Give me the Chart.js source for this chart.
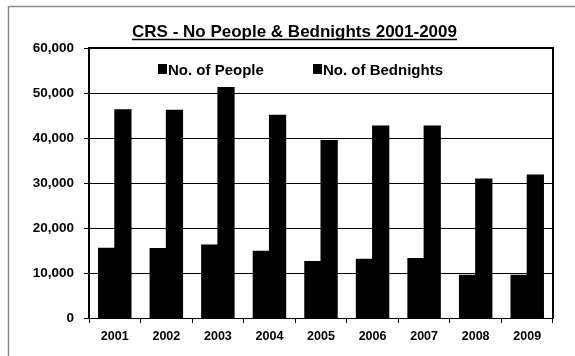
<!DOCTYPE html>
<html>
<head>
<meta charset="utf-8">
<script src="https://cdn.jsdelivr.net/npm/chart.js@4/dist/chart.umd.min.js"></script>
<style>
  html, body { margin: 0; padding: 0; background: #fff; }
  #wrap { width: 575px; height: 356px; }
</style>
</head>
<body>
<div id="wrap"><canvas id="crsChart" width="575" height="356"></canvas></div>
<script>
var years = ['2001', '2002', '2003', '2004', '2005', '2006', '2007', '2008', '2009'];
var people = [15500, 15450, 16250, 14850, 12550, 13050, 13200, 9500, 9500];
var bednights = [46300, 46150, 51200, 45050, 39450, 42650, 42650, 30900, 31800];
var yTicks = [0, 10000, 20000, 30000, 40000, 50000, 60000];
var chartTitle = 'CRS - No People & Bednights 2001-2009';

var FONT = '"Liberation Sans", Arial, sans-serif';

// frame, underlined title, plot border and the legend sitting inside the plot
var decorations = {
  id: 'decorations',
  beforeDraw: function (chart) {
    var c = chart.ctx;
    c.save();
    c.fillStyle = '#fff';
    c.fillRect(0, 0, chart.width, chart.height);
    c.strokeStyle = '#8a8a8a';
    c.lineWidth = 1.5;
    c.beginPath();
    c.moveTo(8.5, chart.height);
    c.lineTo(8.5, 6.5);
    c.lineTo(chart.width, 6.5);
    c.stroke();
    c.restore();
  },
  afterDraw: function (chart) {
    var c = chart.ctx;
    var a = chart.chartArea;
    c.save();
    // plot border (top + right)
    c.strokeStyle = '#000';
    c.lineWidth = 2;
    c.beginPath();
    c.moveTo(a.left, a.top);
    c.lineTo(a.right, a.top);
    c.lineTo(a.right, a.bottom);
    c.stroke();
    c.beginPath();
    c.moveTo(a.left, a.top - 1);
    c.lineTo(a.left, a.bottom);
    c.stroke();

    // title
    c.fillStyle = '#000';
    c.font = 'bold 17px ' + FONT;
    c.textAlign = 'center';
    c.textBaseline = 'alphabetic';
    var tx = 294.5, ty = 37;
    c.fillText(chartTitle, tx, ty);
    var w = c.measureText(chartTitle).width;
    c.lineWidth = 1.5;
    c.beginPath();
    c.moveTo(tx - w / 2, ty + 2.5);
    c.lineTo(tx + w / 2, ty + 2.5);
    c.stroke();

    // legend
    c.font = 'bold 15px ' + FONT;
    c.textAlign = 'left';
    var legendX = [158, 313];
    chart.data.datasets.forEach(function (ds, i) {
      c.fillStyle = ds.backgroundColor;
      c.fillRect(legendX[i], 64, 9, 10);
      c.fillStyle = '#000';
      c.fillText(ds.label, legendX[i] + 10, 74.5);
    });
    c.restore();
  }
};

new Chart(document.getElementById('crsChart'), {
  type: 'bar',
  data: {
    labels: years,
    datasets: [{
      label: 'No. of People',
      data: people,
      backgroundColor: '#000',
      borderWidth: 0,
      inflateAmount: 0.5
    }, {
      label: 'No. of Bednights',
      data: bednights,
      backgroundColor: '#000',
      borderWidth: 0,
      inflateAmount: 0.5
    }]
  },
  options: {
    responsive: false,
    animation: false,
    events: [],
    layout: { padding: { left: 0, right: 22, top: 48, bottom: 0 } },
    datasets: { bar: { categoryPercentage: 0.63, barPercentage: 1 } },
    plugins: {
      legend: { display: false },
      title: { display: false },
      tooltip: { enabled: false }
    },
    scales: {
      x: {
        grid: {
          offset: true,
          drawOnChartArea: false,
          drawTicks: true,
          tickLength: 5,
          color: '#000'
        },
        border: { color: '#000', width: 1 },
        ticks: {
          color: '#000',
          font: { family: FONT, size: 12.5, weight: 'bold' },
          padding: 6,
          maxRotation: 0
        },
        afterFit: function (s) { s.height = 38; }
      },
      y: {
        min: 0,
        max: 60000,
        afterBuildTicks: function (s) {
          s.ticks = yTicks.map(function (v) { return { value: v }; });
        },
        grid: {
          color: '#000',
          lineWidth: 1,
          tickLength: 5
        },
        border: { color: '#000', width: 2 },
        ticks: {
          color: '#000',
          font: { family: FONT, size: 13.5, weight: 'bold' },
          padding: 10,
          callback: function (v) { return v.toLocaleString('en-US'); }
        },
        afterFit: function (s) { s.width = 89; }
      }
    }
  },
  plugins: [decorations]
});
</script>
</body>
</html>
